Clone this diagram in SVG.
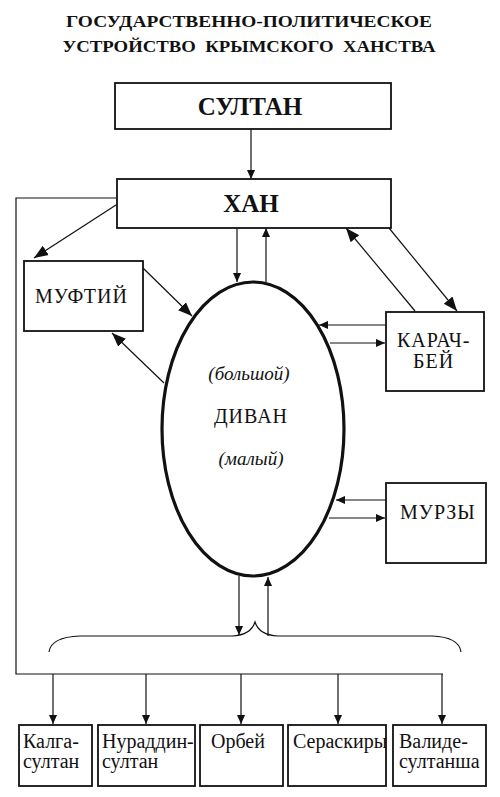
<svg xmlns="http://www.w3.org/2000/svg" width="500" height="797" viewBox="0 0 500 797">
<style>
.box{fill:#fff;stroke:#111;stroke-width:1.8}
.ln{fill:none;stroke:#111;stroke-width:1.2}
.t{font-family:"Liberation Serif","Times New Roman",serif;fill:#111}
.title{font-size:17px;font-weight:bold;text-anchor:middle}
.big{font-size:25px;font-weight:bold;text-anchor:middle}
.lbl{font-size:20px;letter-spacing:1px}
.bot{font-size:20px}
.it{font-size:19px;font-style:italic;text-anchor:middle}
</style>
<defs>
<marker id="a" viewBox="0 0 10 10" refX="10" refY="5" markerWidth="9" markerHeight="9" markerUnits="userSpaceOnUse" orient="auto"><path d="M0,0.5 L10,5 L0,9.5 Z" fill="#111"/></marker>
<marker id="ab" viewBox="0 0 10 10" refX="10" refY="5" markerWidth="14" markerHeight="14" markerUnits="userSpaceOnUse" orient="auto"><path d="M0,1 L10,5 L0,9 Z" fill="#111"/></marker>
</defs>
<rect width="500" height="797" fill="#fff"/>
<g id="title">
<text class="t title" x="249" y="27" textLength="366" lengthAdjust="spacingAndGlyphs">ГОСУДАРСТВЕННО-ПОЛИТИЧЕСКОЕ</text>
<text class="t title" x="249" y="52" textLength="373" lengthAdjust="spacingAndGlyphs" xml:space="preserve">УСТРОЙСТВО  КРЫМСКОГО  ХАНСТВА</text>
</g>
<g id="connectors">
<line class="ln" x1="251" y1="129" x2="251" y2="179" marker-end="url(#a)"/>
<polyline class="ln" points="117,198 16,198 16,674 443,674"/>
<line class="ln" x1="53" y1="674" x2="53" y2="724" marker-end="url(#a)"/>
<line class="ln" x1="146" y1="674" x2="146" y2="724" marker-end="url(#a)"/>
<line class="ln" x1="241" y1="674" x2="241" y2="724" marker-end="url(#a)"/>
<line class="ln" x1="338" y1="674" x2="338" y2="724" marker-end="url(#a)"/>
<line class="ln" x1="442" y1="674" x2="442" y2="724" marker-end="url(#a)"/>
<line class="ln" x1="116" y1="205" x2="34" y2="258" marker-end="url(#ab)"/>
<line class="ln" x1="143" y1="268" x2="192" y2="316" marker-end="url(#ab)"/>
<line class="ln" x1="164" y1="383" x2="112" y2="333" marker-end="url(#ab)"/>
<line class="ln" x1="237" y1="228" x2="237" y2="282" marker-end="url(#a)"/>
<line class="ln" x1="266" y1="282" x2="266" y2="228" marker-end="url(#a)"/>
<line class="ln" x1="415" y1="311" x2="346" y2="228" marker-end="url(#ab)"/>
<line class="ln" x1="389" y1="228" x2="457" y2="311" marker-end="url(#ab)"/>
<line class="ln" x1="386" y1="325" x2="319" y2="325" marker-end="url(#a)"/>
<line class="ln" x1="330" y1="343" x2="385" y2="343" marker-end="url(#a)"/>
<line class="ln" x1="386" y1="500" x2="336" y2="500" marker-end="url(#a)"/>
<line class="ln" x1="329" y1="518" x2="385" y2="518" marker-end="url(#a)"/>
<line class="ln" x1="239" y1="576" x2="239" y2="635" marker-end="url(#a)"/>
<line class="ln" x1="268" y1="636" x2="268" y2="577" marker-end="url(#a)"/>
<path class="ln" d="M49,652 Q51,637 80,636 L232,636 Q251,635 255,622 Q259,635 278,636 L432,636 Q459,637 461,652"/>
</g>
<g id="sultan">
<rect class="box" x="115" y="83" width="276" height="46"/>
<text class="t big" x="250" y="115">СУЛТАН</text>
</g>
<g id="khan">
<rect class="box" x="117" y="179" width="274" height="49"/>
<text class="t big" x="251" y="212">ХАН</text>
</g>
<g id="mufti">
<rect class="box" x="24" y="261" width="119" height="70"/>
<text class="t lbl" x="35" y="303">МУФТИЙ</text>
</g>
<g id="karachbey">
<rect class="box" x="386" y="312" width="98" height="79"/>
<text class="t lbl" x="397" y="347">КАРАЧ-</text>
<text class="t lbl" x="413" y="368">БЕЙ</text>
</g>
<g id="murzy">
<rect class="box" x="386" y="483" width="100" height="80"/>
<text class="t lbl" x="400" y="519">МУРЗЫ</text>
</g>
<g id="divan">
<ellipse cx="253" cy="429" rx="91" ry="147" fill="#fff" stroke="#111" stroke-width="3.2"/>
<text class="t it" x="249" y="380">(большой)</text>
<text class="t lbl" x="251" y="423" text-anchor="middle">ДИВАН</text>
<text class="t it" x="251" y="465">(малый)</text>
</g>
<g id="kalga">
<rect class="box" x="19" y="725" width="73" height="61"/>
<text class="t bot" x="23" y="748">Калга-</text>
<text class="t bot" x="23" y="768">султан</text>
</g>
<g id="nuraddin">
<rect class="box" x="98" y="725" width="97" height="61"/>
<text class="t bot" x="102" y="748">Нураддин-</text>
<text class="t bot" x="102" y="768">султан</text>
</g>
<g id="orbey">
<rect class="box" x="200" y="725" width="83" height="61"/>
<text class="t bot" x="211" y="748">Орбей</text>
</g>
<g id="seraskiry">
<rect class="box" x="288" y="725" width="98" height="61"/>
<text class="t bot" x="293" y="748">Сераскиры</text>
</g>
<g id="valide">
<rect class="box" x="393" y="725" width="93" height="61"/>
<text class="t bot" x="399" y="748">Валиде-</text>
<text class="t bot" x="399" y="768">султанша</text>
</g>
</svg>
